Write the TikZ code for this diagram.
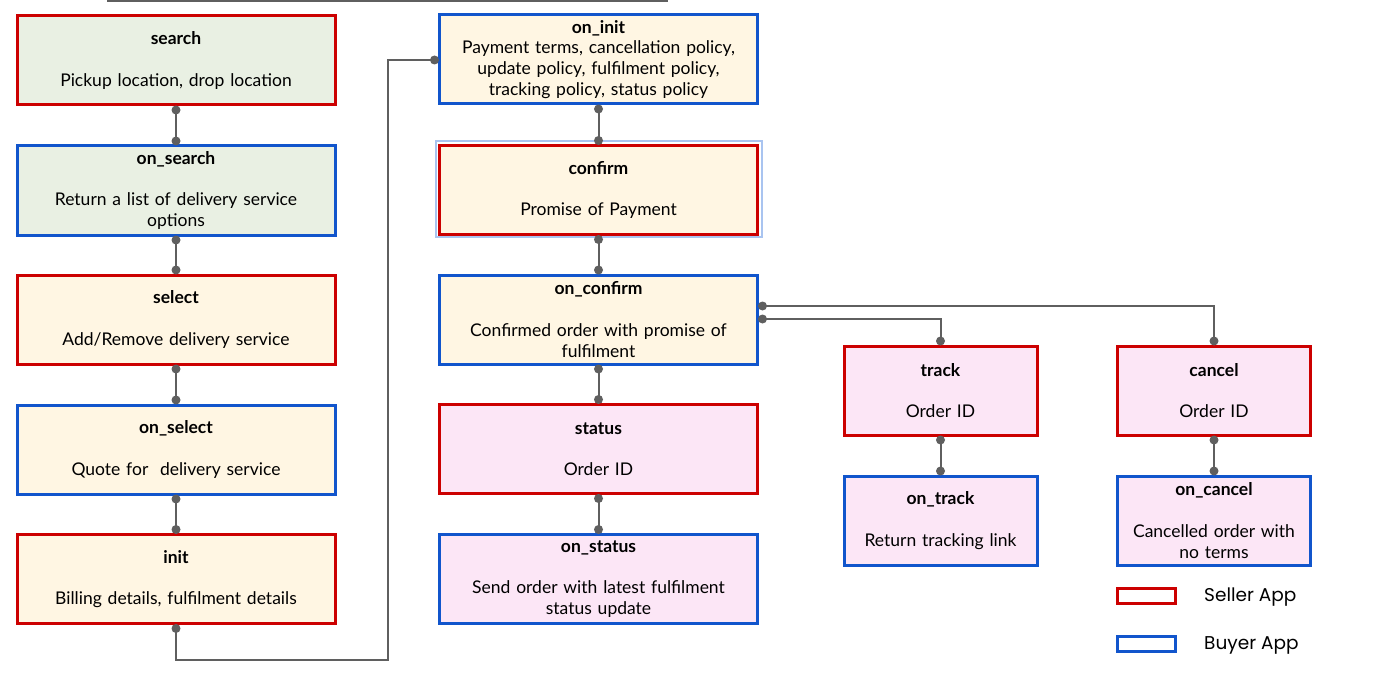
\documentclass[tikz,border=0pt]{standalone}
\usepackage{fontspec}
\setmainfont{Lato}
\newfontfamily\legendfont{Poppins}
\definecolor{sellerred}{HTML}{CC0000}
\definecolor{buyerblue}{HTML}{1155CC}
\definecolor{fillgreen}{HTML}{E9F0E3}
\definecolor{fillyellow}{HTML}{FFF6E3}
\definecolor{fillpink}{HTML}{FCE6F6}
\definecolor{conngray}{HTML}{5F5F5F}
\definecolor{glowblue}{HTML}{A9C4F0}
\tikzset{
  box/.style={rectangle, line width=3pt, inner sep=0pt, outer sep=5pt,
    minimum height=89pt, align=center,
    font=\fontsize{17.5}{20.8}\selectfont},
  wide/.style={minimum width=318pt, text width=312pt},
  narrow/.style={minimum width=193pt, text width=188pt},
  seller/.style={draw=sellerred},
  buyer/.style={draw=buyerblue},
  conn/.style={draw=conngray, line width=2pt},
  dot/.style={circle, fill=conngray, inner sep=0pt, minimum size=9pt},
  legbox/.style={rectangle, line width=3pt, minimum width=58pt, minimum height=15pt, inner sep=0pt},
  legtext/.style={anchor=west, inner sep=0pt, font=\legendfont\fontsize{18.5}{22}\selectfont}
}
\begin{document}
\begin{tikzpicture}[x=1pt,y=-1pt]
\useasboundingbox (0,0) rectangle (1400,674);
\draw[conngray, line width=1.2pt] (107,1) coordinate (tl) -- (668,1) coordinate (tr);
% column 1
\node[box,wide,seller,fill=fillgreen] (search) at (176,60.5) {\textbf{search}\\[20.8pt]Pickup location, drop location};
\node[box,wide,buyer,fill=fillgreen] (onsearch) at (176,190.5) {\textbf{on\_search}\\[20.8pt]Return a list of delivery service\\options};
\node[box,wide,seller,fill=fillyellow] (select) at (176,319.5) {\textbf{select}\\[20.8pt]Add/Remove delivery service};
\node[box,wide,buyer,fill=fillyellow] (onselect) at (176,449.5) {\textbf{on\_select}\\[20.8pt]Quote for\ \ delivery service};
\node[box,wide,seller,fill=fillyellow] (init) at (176,579) {\textbf{init}\\[20.8pt]Billing details, fulfilment details};
% column 2
\node[box,wide,buyer,fill=fillyellow] (oninit) at (598.5,59.5) {\textbf{on\_init}\\Payment terms, cancellation policy,\\update policy, fulfilment policy,\\tracking policy, status policy};
\draw[glowblue, line width=2pt] (436,141) rectangle (762,237);
\node[box,wide,seller,fill=fillyellow] (confirm) at (598.5,190) {\textbf{confirm}\\[20.8pt]Promise of Payment};
\node[box,wide,buyer,fill=fillyellow] (onconfirm) at (598.5,319.5) {\textbf{on\_confirm}\\[20.8pt]Confirmed order with promise of\\fulfilment};
\node[box,wide,seller,fill=fillpink] (status) at (598.5,449) {\textbf{status}\\[20.8pt]Order ID};
\node[box,wide,buyer,fill=fillpink] (onstatus) at (598.5,579) {\textbf{on\_status}\\[20.8pt]Send order with latest fulfilment\\status update};
% column 3 and 4
\node[box,narrow,seller,fill=fillpink] (track) at (940.5,390.5) {\textbf{track}\\[20.8pt]Order ID};
\node[box,narrow,buyer,fill=fillpink] (ontrack) at (940.5,520.5) {\textbf{on\_track}\\[20.8pt]Return tracking link};
\node[box,narrow,seller,fill=fillpink] (cancel) at (1214,390.5) {\textbf{cancel}\\[20.8pt]Order ID};
\node[box,narrow,buyer,fill=fillpink] (oncancel) at (1214,520.5) {\textbf{on\_cancel}\\[20.8pt]Cancelled order with\\no terms};
% connectors
\foreach \a/\b in {search/onsearch,onsearch/select,select/onselect,onselect/init,oninit/confirm,confirm/onconfirm,onconfirm/status,status/onstatus,track/ontrack,cancel/oncancel}{
  \draw[conn] (\a.south) -- (\b.north);
  \node[dot] at (\a.south) {};
  \node[dot] at (\b.north) {};
}
\coordinate (c1) at (176,660);
\coordinate (c2) at (388,660);
\coordinate (c3) at (388,60);
\draw[conn] (init.south) -- (c1) -- (c2) -- (c3) -- (oninit.west |- c3);
\node[dot] at (init.south) {};
\node[dot] at (oninit.west |- c3) {};
\coordinate (e1) at ([yshift=13.5pt]onconfirm.east);
\coordinate (e2) at ([yshift=0.5pt]onconfirm.east);
\draw[conn] (e2) -| (track.north);
\draw[conn] (e1) -| (cancel.north);
\node[dot] at (e1) {};
\node[dot] at (e2) {};
\node[dot] at (track.north) {};
\node[dot] at (cancel.north) {};
% legend
\node[legbox,draw=sellerred] (legs) at (1146.5,595.5) {};
\node[legtext] (legst) at (1204,597) {Seller App};
\node[legbox,draw=buyerblue] (legb) at (1146.5,643.5) {};
\node[legtext] (legbt) at (1204,645) {Buyer App};
\end{tikzpicture}
\end{document}
